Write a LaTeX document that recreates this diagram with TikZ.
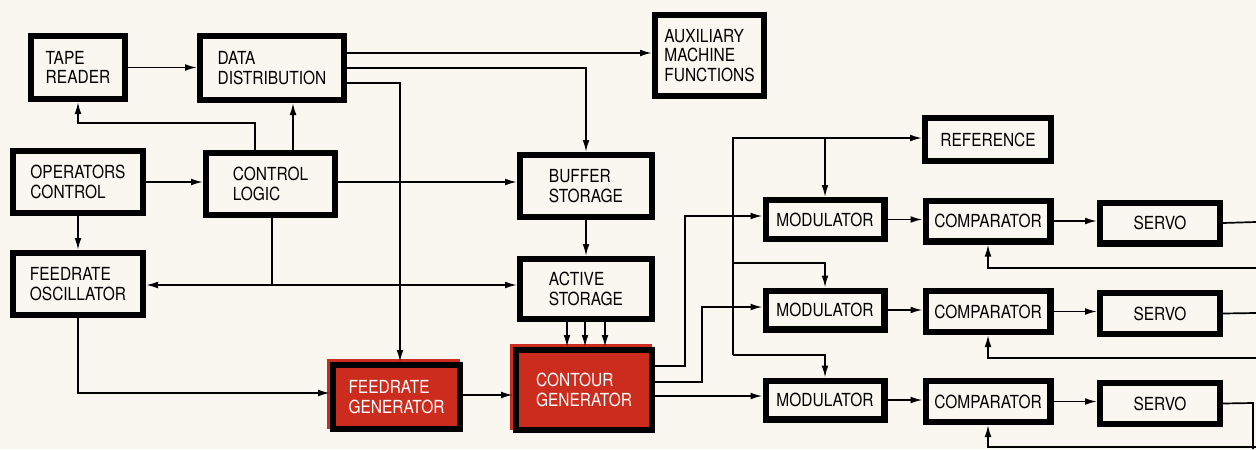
\documentclass[tikz,border=0pt]{standalone}
\usepackage{fontspec}
\setmainfont{TeX Gyre Heros}[FakeStretch=0.86]
\usepackage{tikz}
\usetikzlibrary{arrows.meta}
\definecolor{paper}{RGB}{249,247,240}
\definecolor{fnred}{RGB}{204,44,30}
\tikzset{
  blok/.style={draw, line width=3.2pt, align=left, inner sep=0pt, font=\fontsize{9}{9.8}\selectfont},
  hot/.style={blok, fill=fnred, text=white},
  sz/.style 2 args={minimum width=#1*0.5pt-3.2pt, minimum height=#2*0.5pt-3.2pt},
  wire/.style={line width=0.85pt},
  >={Latex[length=6pt,width=3.4pt]}
}
\begin{document}
\begin{tikzpicture}[x=0.5pt,y=-0.5pt]
\fill[paper] (0,0) rectangle (1256,449);
\useasboundingbox (0,0) rectangle (1256,449);
\node[blok,sz={100}{69}] (tape) at (78,67.5) {TAPE\\READER};
\node[blok,sz={150}{70}] (dist) at (272,68) {DATA\\DISTRIBUTION};
\node[blok,sz={115}{87}] (aux) at (709.5,55.5) {AUXILIARY\\MACHINE\\FUNCTIONS};
\node[blok,sz={136}{68}] (oper) at (78,182) {OPERATORS\\CONTROL};
\node[blok,sz={135}{68}] (logic) at (270.5,184) {CONTROL\\LOGIC};
\node[blok,sz={138}{68}] (buffer) at (586,186) {BUFFER\\STORAGE};
\node[blok,sz={136}{68}] (osc) at (78,284) {FEEDRATE\\OSCILLATOR};
\node[blok,sz={138}{66}] (active) at (586,289) {ACTIVE\\STORAGE};
\fill[fnred] (327,359) rectangle (460,429);
\node[hot,sz={133}{70}] (fgen) at (396.5,397) {FEEDRATE\\GENERATOR};
\fill[fnred] (510,344) rectangle (652,430);
\node[hot,sz={142}{86}] (cgen) at (584,390) {CONTOUR\\GENERATOR};
\node[blok,sz={132}{49}] (ref) at (988,139.5) {REFERENCE};
\foreach \i/\y in {1/219.5,2/310,3/400}{
  \node[blok,sz={125}{45}] (mod\i) at (825,\y) {MODULATOR};
  \node[blok,sz={131}{47}] (comp\i) at (988,\y+1.5) {COMPARATOR};
  \node[blok,sz={126}{47}] (servo\i) at (1160,\y+3.5) {SERVO};
  \draw[wire,->] (mod\i.east) -- (comp\i.west |- mod\i.east);
  \draw[wire,->] (comp\i.east) -- (servo\i.west |- comp\i.east);
}
\draw[wire,->] (tape.east) -- (dist.west |- tape.east);
\draw[wire,->] (logic.north -| 255,0) -- ++(0,-27) -| (tape.south);
\draw[wire,->] (logic.north -| 293,0) -- (dist.south -| 293,0);
\draw[wire,->] (oper.east) -- (logic.west |- oper.east);
\draw[wire,->] (oper.south) -- (osc.north);
\draw[wire] (logic.south -| 272,0) -- (272,285);
\draw[wire,<->] (osc.east |- 0,285) -- (active.west |- 0,285);
\draw[wire,->] (logic.east |- 0,182) -- (buffer.west |- 0,182);
\draw[wire,->] (dist.east |- 0,53) -- (aux.west |- 0,53);
\draw[wire,->] (dist.east |- 0,68) -| (buffer.north);
\draw[wire,->] (dist.east |- 0,83) -| (fgen.north -| 400,0);
\draw[wire,->] (osc.south) |- (fgen.west |- 0,393);
\draw[wire,->] (buffer.south) -- (active.north);
\foreach \c in {567,585,605}{\draw[wire,->] (active.south -| \c,0) -- (cgen.north -| \c,0);}
\draw[wire,->] (fgen.east |- 0,395) -- (cgen.west |- 0,395);
\draw[wire,->] (cgen.east |- 0,366) -| (685,216) -- (mod1.west |- 0,216);
\draw[wire,->] (cgen.east |- 0,382) -| (702,307) -- (mod2.west |- 0,307);
\draw[wire,->] (cgen.east |- 0,396) -- (mod3.west |- 0,396);
\draw[wire,->] (733,355) -- (733,138) -- (ref.west |- 0,138);
\draw[wire,->] (mod1.north |- 0,138) -- (mod1.north);
\draw[wire,->] (733,263) -| (mod2.north);
\draw[wire,->] (733,355) -| (mod3.north);
\draw[wire] (servo1.east) -- (1256,222);
\draw[wire] (servo2.east) -- (1256,313);
\draw[wire] (servo3.east) -- (1253,403) -- (1253,449);
\draw[wire,->] (1256,268) -| (comp1.south);
\draw[wire,->] (1256,358) -| (comp2.south);
\draw[wire,->] (1256,447) -| (comp3.south);
\end{tikzpicture}
\end{document}
